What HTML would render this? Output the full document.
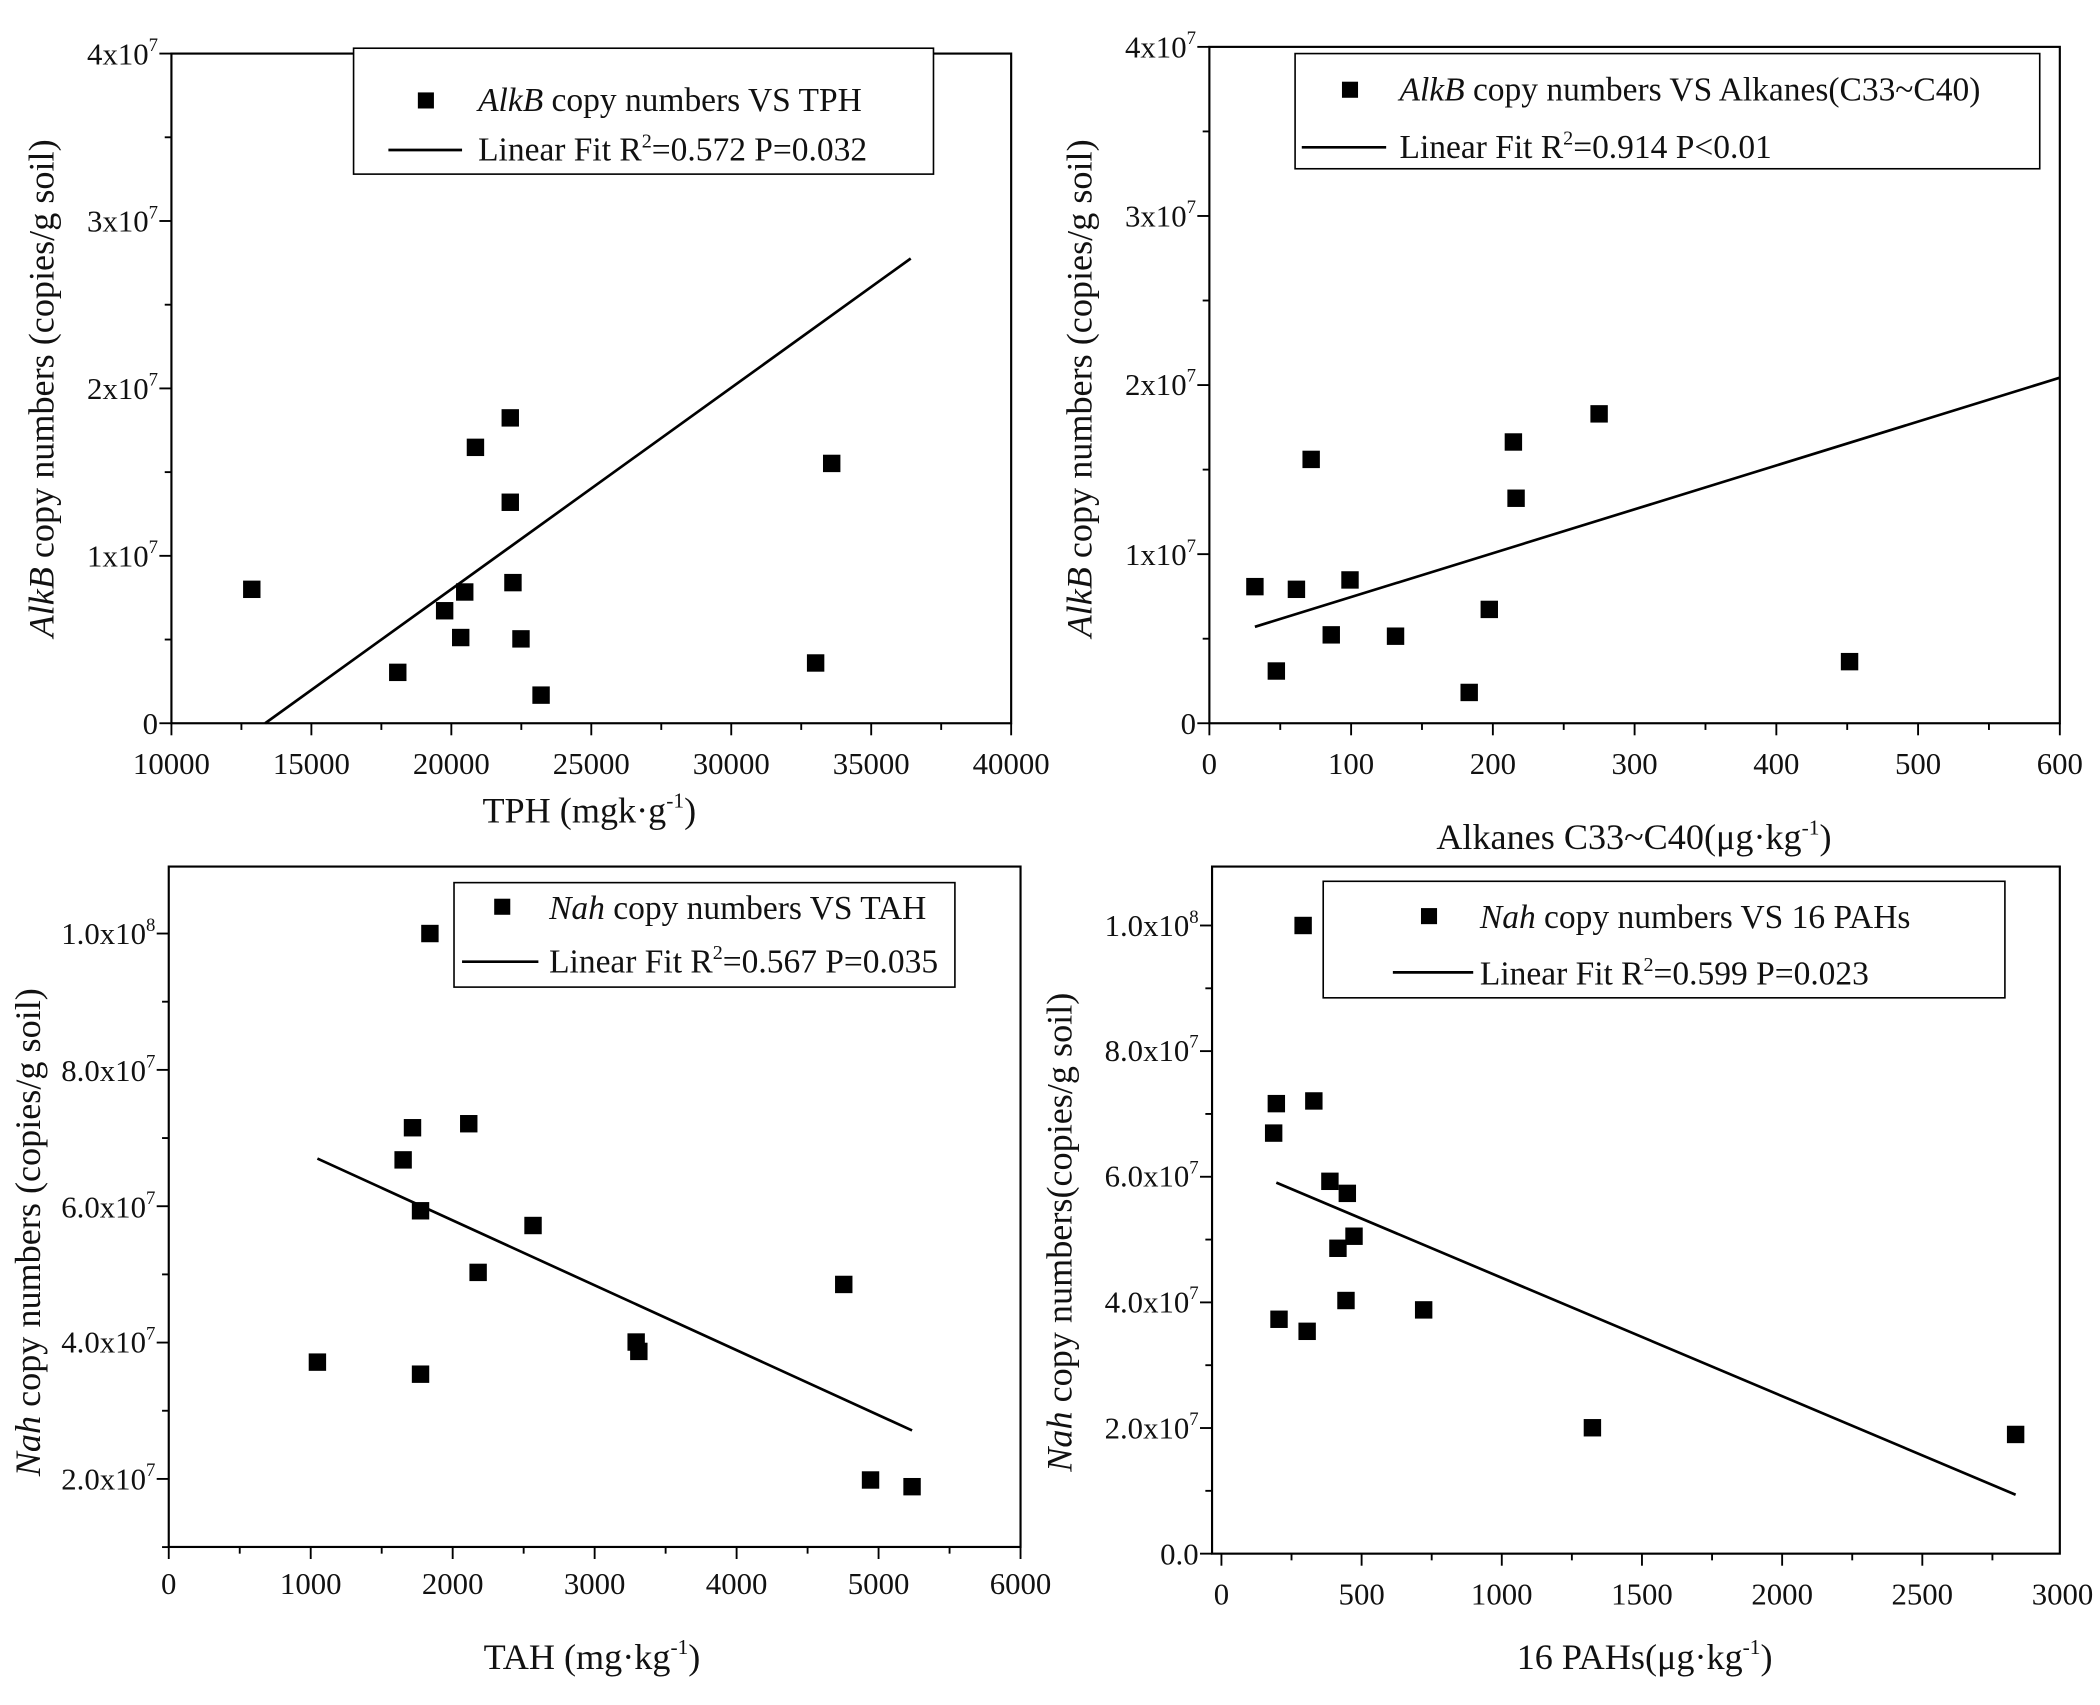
<!DOCTYPE html>
<html><head><meta charset="utf-8"><style>
html,body{margin:0;padding:0;background:#fff}
svg{display:block}
text{font-family:"Liberation Serif",serif;fill:#111}
.t{font-size:23px}
.l{font-size:25px}
.a{font-size:27px}
</style></head><body>
<svg id="s" width="2100" height="1705" viewBox="0 0 1568 1273" preserveAspectRatio="none" xmlns="http://www.w3.org/2000/svg">
<g fill="none" stroke="#000" stroke-width="1.6">
<rect x="128" y="40" width="627" height="500"/>
<rect x="903" y="35" width="635" height="505"/>
<rect x="126" y="647" width="636" height="508"/>
<rect x="905" y="647" width="633" height="513"/>
</g>
<g id="ticks" stroke="#000" stroke-width="1.4"></g>
<g id="pts" fill="#000"></g>
<g stroke="#000" stroke-width="2" fill="none">
<line x1="198" y1="540" x2="680" y2="193"/>
<line x1="937" y1="468" x2="1538" y2="282"/>
<line x1="237" y1="865" x2="681" y2="1068"/>
<line x1="953" y1="883" x2="1505" y2="1116"/>
</g>
<!-- legends -->
<g fill="#fff" stroke="#000" stroke-width="1.2">
<rect x="264" y="36" width="433" height="94"/>
<rect x="967" y="40" width="556" height="86"/>
<rect x="339" y="659" width="374" height="78"/>
<rect x="988" y="658" width="509" height="87"/>
</g>
<g stroke="#000" stroke-width="2">
<line x1="290" y1="112" x2="345" y2="112"/>
<line x1="972" y1="110" x2="1035" y2="110"/>
<line x1="345" y1="718" x2="402" y2="718"/>
<line x1="1040" y1="726" x2="1100" y2="726"/>
</g>
<g fill="#000">
<rect x="312" y="69" width="12" height="12"/>
<rect x="1002" y="61" width="12" height="12"/>
<rect x="369" y="671" width="12" height="12"/>
<rect x="1061" y="678" width="12" height="12"/>
</g>
<text class="l" x="357" y="83"><tspan font-style="italic">AlkB</tspan> copy numbers VS TPH</text>
<text class="l" x="357" y="120">Linear Fit R<tspan font-size="15" dy="-10">2</tspan><tspan dy="10">=0.572 P=0.032</tspan></text>
<text class="l" x="1045" y="75"><tspan font-style="italic">AlkB</tspan> copy numbers VS Alkanes(C33~C40)</text>
<text class="l" x="1045" y="118">Linear Fit  R<tspan font-size="15" dy="-10">2</tspan><tspan dy="10">=0.914 P&lt;0.01</tspan></text>
<text class="l" x="410" y="686"><tspan font-style="italic">Nah</tspan> copy numbers VS TAH</text>
<text class="l" x="410" y="726">Linear Fit R<tspan font-size="15" dy="-10">2</tspan><tspan dy="10">=0.567 P=0.035</tspan></text>
<text class="l" x="1105" y="693"><tspan font-style="italic">Nah</tspan> copy numbers VS 16 PAHs</text>
<text class="l" x="1105" y="735">Linear Fit R<tspan font-size="15" dy="-10">2</tspan><tspan dy="10">=0.599 P=0.023</tspan></text>
<!-- axis titles -->
<text class="a" x="440" y="614" text-anchor="middle">TPH (mgk·g<tspan font-size="16" dy="-11">-1</tspan><tspan dy="11">)</tspan></text>
<text class="a" x="1220" y="634" text-anchor="middle">Alkanes C33~C40(μg·kg<tspan font-size="16" dy="-11">-1</tspan><tspan dy="11">)</tspan></text>
<text class="a" x="442" y="1246" text-anchor="middle">TAH (mg·kg<tspan font-size="16" dy="-11">-1</tspan><tspan dy="11">)</tspan></text>
<text class="a" x="1228" y="1246" text-anchor="middle">16 PAHs(μg·kg<tspan font-size="16" dy="-11">-1</tspan><tspan dy="11">)</tspan></text>
<text class="a" transform="translate(40,290) rotate(-90)" text-anchor="middle"><tspan font-style="italic">AlkB</tspan> copy numbers (copies/g soil)</text>
<text class="a" transform="translate(815,290) rotate(-90)" text-anchor="middle"><tspan font-style="italic">AlkB</tspan> copy numbers (copies/g soil)</text>
<text class="a" transform="translate(30,920) rotate(-90)" text-anchor="middle"><tspan font-style="italic">Nah</tspan> copy numbers (copies/g soil)</text>
<text class="a" transform="translate(800,920) rotate(-90)" text-anchor="middle"><tspan font-style="italic">Nah</tspan> copy numbers(copies/g soil)</text>
<!-- tick labels -->
<g class="t" text-anchor="middle">
<text x="128" y="578">10000</text><text x="232.5" y="578">15000</text><text x="337" y="578">20000</text><text x="441.5" y="578">25000</text><text x="546" y="578">30000</text><text x="650.5" y="578">35000</text><text x="755" y="578">40000</text>
<text x="903" y="578">0</text><text x="1008.8" y="578">100</text><text x="1114.7" y="578">200</text><text x="1220.5" y="578">300</text><text x="1326.3" y="578">400</text><text x="1432.2" y="578">500</text><text x="1538" y="578">600</text>
<text x="126" y="1190">0</text><text x="232" y="1190">1000</text><text x="338" y="1190">2000</text><text x="444" y="1190">3000</text><text x="550" y="1190">4000</text><text x="656" y="1190">5000</text><text x="762" y="1190">6000</text>
<text x="912" y="1198">0</text><text x="1016.7" y="1198">500</text><text x="1121.3" y="1198">1000</text><text x="1226" y="1198">1500</text><text x="1330.7" y="1198">2000</text><text x="1435.3" y="1198">2500</text><text x="1540" y="1198">3000</text>
</g>
<g class="t" text-anchor="end">
<text x="118" y="548">0</text>
<text x="118" y="423">1x10<tspan font-size="14" dy="-10">7</tspan></text>
<text x="118" y="298">2x10<tspan font-size="14" dy="-10">7</tspan></text>
<text x="118" y="173">3x10<tspan font-size="14" dy="-10">7</tspan></text>
<text x="118" y="48">4x10<tspan font-size="14" dy="-10">7</tspan></text>
<text x="893" y="548">0</text>
<text x="893" y="422">1x10<tspan font-size="14" dy="-10">7</tspan></text>
<text x="893" y="295">2x10<tspan font-size="14" dy="-10">7</tspan></text>
<text x="893" y="169">3x10<tspan font-size="14" dy="-10">7</tspan></text>
<text x="893" y="43">4x10<tspan font-size="14" dy="-10">7</tspan></text>
<text x="116" y="1112">2.0x10<tspan font-size="14" dy="-10">7</tspan></text>
<text x="116" y="1010">4.0x10<tspan font-size="14" dy="-10">7</tspan></text>
<text x="116" y="909">6.0x10<tspan font-size="14" dy="-10">7</tspan></text>
<text x="116" y="807">8.0x10<tspan font-size="14" dy="-10">7</tspan></text>
<text x="116" y="705">1.0x10<tspan font-size="14" dy="-10">8</tspan></text>
<text x="895" y="1168">0.0</text>
<text x="895" y="1074">2.0x10<tspan font-size="14" dy="-10">7</tspan></text>
<text x="895" y="980">4.0x10<tspan font-size="14" dy="-10">7</tspan></text>
<text x="895" y="886">6.0x10<tspan font-size="14" dy="-10">7</tspan></text>
<text x="895" y="792">8.0x10<tspan font-size="14" dy="-10">7</tspan></text>
<text x="895" y="699">1.0x10<tspan font-size="14" dy="-10">8</tspan></text>
</g>
</svg>
<script>
var NS="http://www.w3.org/2000/svg",T=document.getElementById("ticks"),P=document.getElementById("pts");
function ln(a,b,c,d){var l=document.createElementNS(NS,"line");l.setAttribute("x1",a);l.setAttribute("y1",b);l.setAttribute("x2",c);l.setAttribute("y2",d);T.appendChild(l);}
function xt(x0,x1,n,y,xl,xr){var st=(x1-x0)/n;for(var i=0;i<=n*2;i++){var x=x0+st*i/2;if(x<xl-0.5||x>xr+0.5)continue;ln(x,y,x,y+(i%2?5:9));}}
function yt(y0,y1,n,x,yt_,yb){var st=(y1-y0)/n;for(var i=-2;i<=n*2+2;i++){var y=y0+st*i/2;if(y<yt_-0.5||y>yb+0.5)continue;ln(x,y,x-(i%2?5:9),y);}}
xt(128,755,6,540,128,755);yt(540,40,4,128,40,540);
xt(903,1538,6,540,903,1538);yt(540,35,4,903,35,540);
xt(126,762,6,1155,126,762);yt(1206,697,5,126,647,1155);
xt(912,1540,6,1160,905,1538);yt(1160,691,5,905,647,1160);
var pts=[[188,440],[297,502],[332,456],[344,476],[347,442],[355,334],[381,312],[381,375],[383,435],[389,477],[404,519],[609,495],[621,346],
[937,438],[953,501],[968,440],[979,343],[994,474],[1008,433],[1042,475],[1097,517],[1112,455],[1130,330],[1132,372],[1194,309],[1381,494],
[237,1017],[301,866],[308,842],[314,1026],[314,904],[321,697],[350,839],[357,950],[398,915],[475,1002],[477,1009],[630,959],[650,1105],[681,1110],
[951,846],[953,824],[955,985],[973,691],[976,994],[981,822],[993,882],[999,932],[1006,891],[1005,971],[1011,923],[1063,978],[1189,1066],[1505,1071]];
pts.forEach(function(p){var r=document.createElementNS(NS,"rect");r.setAttribute("x",p[0]-6.5);r.setAttribute("y",p[1]-6.5);r.setAttribute("width",13);r.setAttribute("height",13);P.appendChild(r);});
</script>
</body></html>
